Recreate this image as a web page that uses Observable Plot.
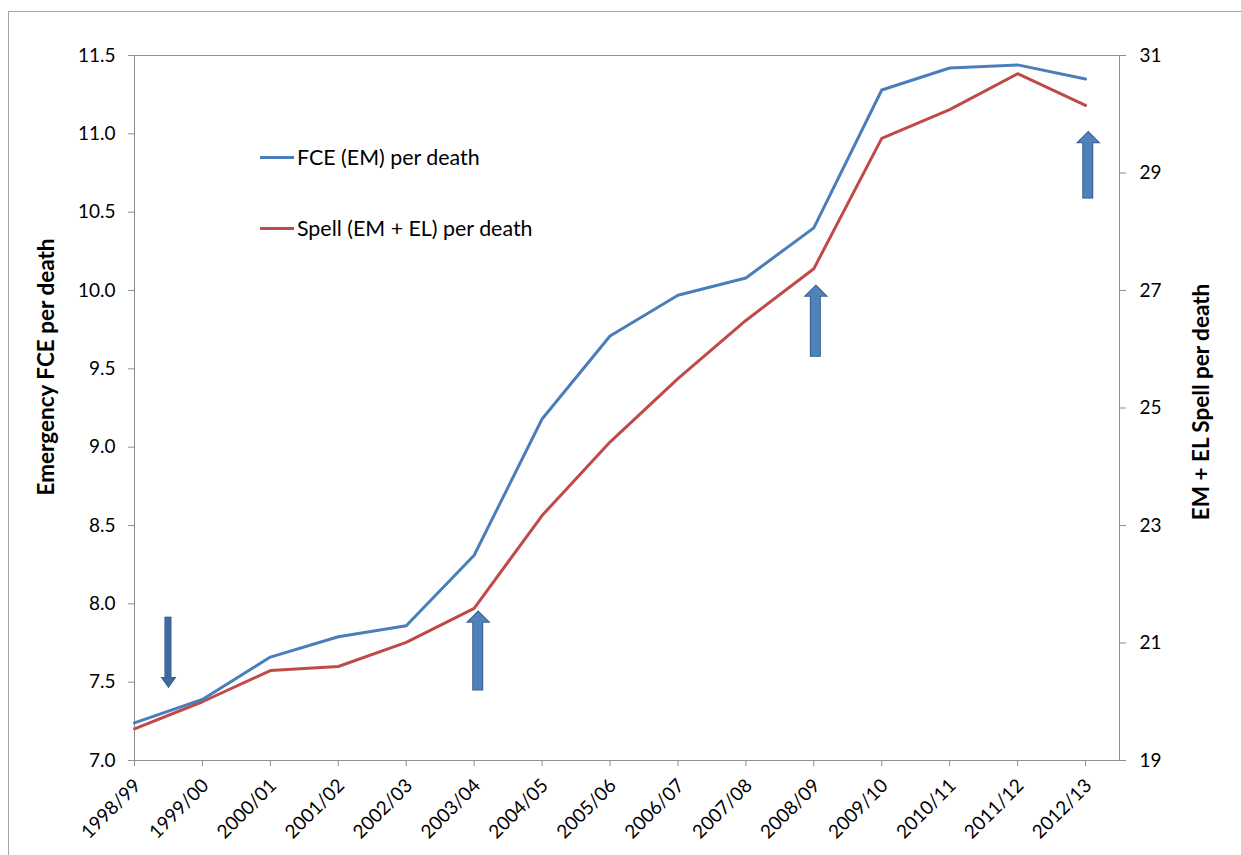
<!DOCTYPE html>
<html>
<head>
<meta charset="utf-8">
<script src="https://cdn.jsdelivr.net/npm/d3@7"></script>
<script src="https://cdn.jsdelivr.net/npm/@observablehq/plot@0.6"></script>
<style>
  body { margin: 0; background: #fff; overflow: hidden; font-family: Lato, "Open Sans", sans-serif; }
  #wrap { position: relative; width: 1241px; height: 855px; overflow: hidden; background: #fff; }
  #border { position: absolute; left: 8px; top: 11px; width: 1300px; height: 900px; border: 1px solid #a6a6a6; }
  #chart { position: absolute; left: 0; top: 0; }
  .ytitle { position: absolute; font-weight: bold; font-size: 22.5px; white-space: nowrap; color: #000;
            transform: translate(-50%, -50%) rotate(-90deg); }
  .leg { position: absolute; left: 260px; font-size: 21.4px; color: #000; display: flex; align-items: center;
         white-space: nowrap; transform: translateY(-50%); }
  .leg .sw { display: inline-block; width: 34px; height: 3px; margin-right: 3px; }
</style>
</head>
<body>
<div id="wrap">
  <div id="border"></div>
  <div id="chart"></div>
  <div class="leg" style="top:157px"><span class="sw" style="background:#4a7ebb"></span><span id="leg1"></span></div>
  <div class="leg" style="top:228px"><span class="sw" style="background:#be4b48"></span><span id="leg2"></span></div>
  <div class="ytitle" id="ylabL" style="left:45px; top:367px"></div>
  <div class="ytitle" id="ylabR" style="left:1200px; top:402px"></div>
</div>
<script>
// ---- data ----
const years = ["1998/99", "1999/00", "2000/01", "2001/02", "2002/03", "2003/04", "2004/05", "2005/06",
               "2006/07", "2007/08", "2008/09", "2009/10", "2010/11", "2011/12", "2012/13"];
const fcePerDeath = [7.24, 7.39, 7.66, 7.79, 7.86, 8.31, 9.18, 9.71, 9.97, 10.08, 10.40, 11.28, 11.42, 11.44, 11.35];
const spellPerDeath = [19.54, 20.00, 20.53, 20.60, 21.01, 21.59, 23.17, 24.42, 25.50, 26.49, 27.37, 29.59, 30.08, 30.69, 30.15];
const leftTicks = [7.0, 7.5, 8.0, 8.5, 9.0, 9.5, 10.0, 10.5, 11.0, 11.5];
const rightTicks = [19, 21, 23, 25, 27, 29, 31];
const seriesNames = ["FCE (EM) per death", "Spell (EM + EL) per death"];
const leftTitle = "Emergency FCE per death";
const rightTitle = "EM + EL Spell per death";
// annotation arrows: category position, tail value, tip value (left-axis units)
const arrowX = [0.5, 5.06, 10.03, 14.04];
const arrowFrom = [7.91, 7.45, 9.58, 10.59];
const arrowTo = [7.47, 7.95, 10.03, 11.01];

// ---- scales helpers ----
const LMIN = 7, LMAX = 11.5, RMIN = 19, RMAX = 31;
const toLeft = r => LMIN + (r - RMIN) * (LMAX - LMIN) / (RMAX - RMIN);
const fromLeft = v => RMIN + (v - LMIN) * (RMAX - RMIN) / (LMAX - LMIN);

const idx = years.map((_, i) => i);
const fceData = years.map((y, i) => ({i, v: fcePerDeath[i]}));
const spellData = years.map((y, i) => ({i, v: toLeft(spellPerDeath[i])}));
const arrows = arrowX.map((x, i) => ({x, from: arrowFrom[i], to: arrowTo[i], up: arrowTo[i] > arrowFrom[i]}));
const upArrows = arrows.filter(a => a.up);
const downArrows = arrows.filter(a => !a.up);

const head = (w, h) => ({draw(ctx) { ctx.moveTo(0, 0); ctx.lineTo(w / 2, h); ctx.lineTo(-w / 2, h); ctx.closePath(); }});

const AX = "#8f8f8f";
const upFill = "#4f81bd", downFill = "#3f6a9e", outline = "#385d8a";

const chart = Plot.plot({
  width: 1241,
  height: 855,
  marginTop: 55,
  marginBottom: 95,
  marginLeft: 134,
  marginRight: 122,
  style: {fontFamily: "Lato, 'Open Sans', sans-serif", fontSize: "19px", color: "#000", background: "transparent"},
  x: {type: "linear", domain: [0, 14.5]},
  y: {type: "linear", domain: [LMIN, LMAX]},
  marks: [
    Plot.frame({stroke: AX}),
    Plot.axisY(leftTicks, {anchor: "left", tickSize: 6, tickPadding: 13, stroke: AX, fill: "#000", fontSize: 19,
      tickFormat: d => d.toFixed(1), label: null}),
    Plot.axisY(rightTicks.map(toLeft), {anchor: "right", tickSize: 6, tickPadding: 14, stroke: AX, fill: "#000", fontSize: 19,
      tickFormat: d => String(Math.round(fromLeft(d))), label: null}),
    Plot.axisX(idx, {anchor: "bottom", tickSize: 6, stroke: AX, text: null, label: null}),
    Plot.axisX(idx, {anchor: "bottom", tickSize: 0, tickPadding: 14, tickRotate: -45, fill: "#000", fontSize: 19,
      dx: 3, dy: 8, tickFormat: i => years[i], label: null}),
    Plot.line(spellData, {x: "i", y: "v", stroke: "#be4b48", strokeWidth: 3}),
    Plot.line(fceData, {x: "i", y: "v", stroke: "#4a7ebb", strokeWidth: 3}),
    // up arrows (outline layer, then fill layer)
    Plot.rect(upArrows, {x1: "x", x2: "x", y1: "from", y2: "to", insetLeft: -4.5, insetRight: -4.5, insetTop: 9,
      fill: upFill, stroke: outline, strokeWidth: 2}),
    Plot.dot(upArrows, {x: "x", y: "to", r: 5, symbol: head(20, 10), fill: upFill, stroke: outline, strokeWidth: 2}),
    Plot.rect(upArrows, {x1: "x", x2: "x", y1: "from", y2: "to", insetLeft: -4.5, insetRight: -4.5, insetTop: 9,
      fill: upFill}),
    Plot.dot(upArrows, {x: "x", y: "to", r: 5, symbol: head(20, 10), fill: upFill, stroke: "none"}),
    // down arrow
    Plot.rect(downArrows, {x1: "x", x2: "x", y1: "from", y2: "to", insetLeft: -2.8, insetRight: -2.8, insetBottom: 8,
      fill: downFill, stroke: outline, strokeWidth: 1.5}),
    Plot.dot(downArrows, {x: "x", y: "to", r: 5, rotate: 180, symbol: head(13, 9), fill: downFill, stroke: outline, strokeWidth: 1.5}),
    Plot.rect(downArrows, {x1: "x", x2: "x", y1: "from", y2: "to", insetLeft: -2.8, insetRight: -2.8, insetBottom: 8,
      fill: downFill}),
    Plot.dot(downArrows, {x: "x", y: "to", r: 5, rotate: 180, symbol: head(13, 9), fill: downFill, stroke: "none"})
  ]
});
document.getElementById("chart").appendChild(chart);
document.getElementById("leg1").textContent = seriesNames[0];
document.getElementById("leg2").textContent = seriesNames[1];
document.getElementById("ylabL").textContent = leftTitle;
document.getElementById("ylabR").textContent = rightTitle;
</script>
</body>
</html>
